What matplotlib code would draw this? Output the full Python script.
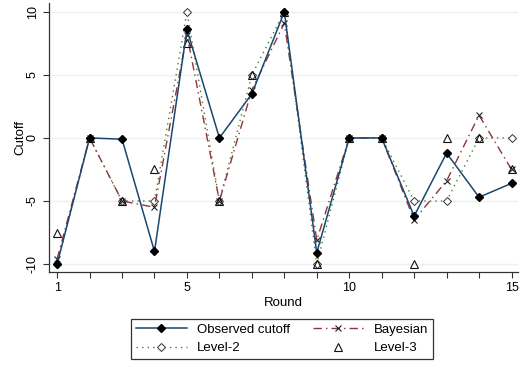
import numpy as np
import matplotlib.pyplot as plt

plt.rcParams['font.family'] = ['Liberation Sans', 'DejaVu Sans']

rounds = list(range(1, 16))
observed = [-10, 0, -0.1, -9, 8.6, 0, 3.5, 10, -9.1, 0, 0, -6.2, -1.2, -4.7, -3.6]
bayesian = [-9.6, 0, -5, -5.5, 8.2, -5, 3.8, 9.1, -8.1, 0, 0, -6.5, -3.4, 1.8, -2.5]
level2 = [-10, 0, -5, -5, 10, -5, 5, 10, -10, 0, 0, -5, -5, 0, 0]
level3 = [-7.5, 0, -5, -2.5, 7.5, -5, 5, 10, -10, 0, 0, -10, 0, 0, -2.5]

navy = '#1a476f'
maroon = '#90353b'
green = '#55752f'

fig = plt.figure(figsize=(5.2, 3.65), dpi=100)
ax = fig.add_axes([49 / 520, 93 / 365, 469 / 520, 269 / 365])

# light horizontal grid like the stata scheme
for y in [-10, -5, 0, 5, 10]:
    ax.axhline(y, color='#eaf2f3', linewidth=1.0, zorder=0)

ax.plot(rounds, level2, color=green, linestyle=(0, (1, 3)), linewidth=1.0,
        marker='D', markersize=4, markerfacecolor='white', markeredgecolor='#333333',
        markeredgewidth=0.7, label='Level-2', zorder=2)
ax.plot(rounds, bayesian, color=maroon, linestyle=(0, (6, 3, 1, 3)), linewidth=1.0,
        marker='x', markersize=4, markeredgecolor='#222222', markeredgewidth=0.8,
        label='Bayesian', zorder=3)
ax.plot(rounds, level3, linestyle='none', marker='^', markersize=6,
        markerfacecolor='none', markeredgecolor='#111111', markeredgewidth=0.8,
        label='Level-3', zorder=4)
ax.plot(rounds, observed, color=navy, linewidth=1.1, marker='D', markersize=4.5,
        markerfacecolor='black', markeredgecolor='black',
        label='Observed cutoff', zorder=5)

ax.set_xlim(0.75, 15.2)
ax.set_ylim(-10.63, 10.7)
ax.set_xticks(rounds)
ax.set_xticklabels([str(r) if r in (1, 5, 10, 15) else '' for r in rounds])
ax.set_yticks([-10, -5, 0, 5, 10])
ax.set_yticklabels(['-10', '-5', '0', '5', '10'], rotation=90, va='center')
ax.tick_params(labelsize=9, length=4.5, width=0.8, color='#333333', pad=3)

for side in ['top', 'right']:
    ax.spines[side].set_visible(False)
for side in ['left', 'bottom']:
    ax.spines[side].set_color('#333333')
    ax.spines[side].set_linewidth(0.9)

ax.set_xlabel('Round', fontsize=9.5, labelpad=2)
ax.set_ylabel('Cutoff', fontsize=9.5, labelpad=0)

handles, labels = ax.get_legend_handles_labels()
order = [3, 0, 1, 2]
leg = fig.legend([handles[i] for i in order], [labels[i] for i in order],
                 ncol=2, loc='center', bbox_to_anchor=(282 / 520, 1 - 339 / 365),
                 fontsize=9.5, frameon=True, fancybox=False, edgecolor='black',
                 handlelength=3.9, columnspacing=1.7, borderpad=0.35, labelspacing=0.45,
                 handletextpad=0.75)
leg.get_frame().set_linewidth(0.9)

fig.savefig('out.png', dpi=100)
